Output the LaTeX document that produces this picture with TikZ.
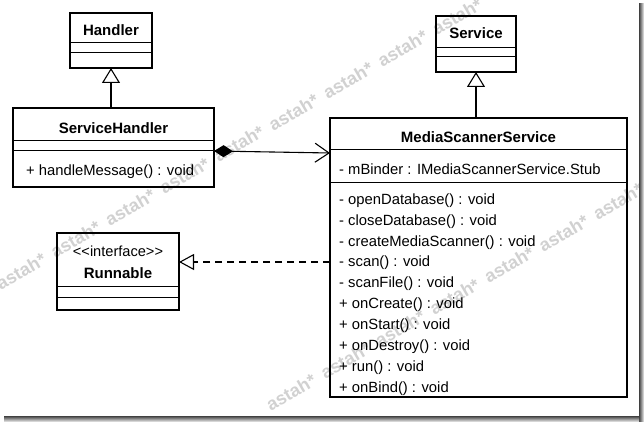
\documentclass[tikz,border=0pt]{standalone}
\usepackage{fontspec}
\setmainfont{Liberation Sans}
\usetikzlibrary{arrows.meta}
\begin{document}
\begin{tikzpicture}[x=1pt,y=-1pt,
  box/.style={draw=black, line width=2.2pt, inner sep=0pt, outer sep=0pt, anchor=north west},
  sep/.style={draw=black, line width=1pt},
  cname/.style={font=\bfseries\fontsize{15}{18}\selectfont, inner sep=0pt, anchor=base},
  member/.style={font=\fontsize{14.8}{18}\selectfont, inner sep=0pt, anchor=base west},
  stereo/.style={font=\fontsize{14.6}{18}\selectfont, inner sep=0pt, anchor=base},
  conn/.style={draw=black, line width=1.1pt},
  gen/.style={conn, -{Triangle[open, length=15pt, width=18pt, line width=1.1pt]}},
  realz/.style={conn, dash pattern=on 7pt off 5pt, -{Triangle[open, length=15pt, width=16pt, line width=1.1pt]}},
  comp/.style={conn, {Diamond[length=19pt, width=12pt]}-{Straight Barb[length=14pt, width=19pt, line width=1.1pt]}},
  wm/.style={font=\bfseries\fontsize{18}{18}\selectfont, text=black!18, rotate=30.2, inner sep=0pt},
  shadowr/.style={left color=black!75, right color=black!4},
  shadowb/.style={top color=black!75, bottom color=black!4}
]
\useasboundingbox (0,0) rectangle (644,422);
\fill[white] (0,0) rectangle (644,422);

% watermarks
\begin{scope}
  \clip (0,0) rectangle (639,416);
  \foreach \k in {0,...,8}
    \node[wm] (wma\k) at ({21+54.5*\k},{271-31.8*\k}) {astah*};
  \foreach \k in {0,...,6}
    \node[wm] (wmb\k) at ({291+54.5*\k},{392-31.8*\k}) {astah*};
\end{scope}

% Handler
\node[box, minimum width=82pt, minimum height=55pt] (handler) at (70,13) {};
\draw[sep] (70,43) -- (152,43);
\draw[sep] (70,53) -- (152,53);
\node[cname] (handlername) at (111,36) {Handler};

% ServiceHandler
\node[box, minimum width=201pt, minimum height=79pt] (servicehandler) at (13,108) {};
\draw[sep] (13,141) -- (214,141);
\draw[sep] (13,151) -- (214,151);
\node[cname] (shname) at (113.5,133.5) {ServiceHandler};
\node[member] (shop) at (26,175.5) {+ handleMessage() : void};

% Service
\node[box, minimum width=80pt, minimum height=56pt] (service) at (436,16) {};
\draw[sep] (436,48) -- (516,48);
\draw[sep] (436,57) -- (516,57);
\node[cname] (servicename) at (476,39) {Service};

% MediaScannerService
\node[box, minimum width=297pt, minimum height=279pt] (mss) at (330,118) {};
\draw[sep] (330,150) -- (627,150);
\draw[sep] (330,182) -- (627,182);
\node[cname] (mssname) at (478.5,142.5) {MediaScannerService};
\node[member] (mssattr) at (339,174) {- mBinder : IMediaScannerService.Stub};
\foreach \t [count=\i from 0] in {- openDatabase() : void, - closeDatabase() : void,
    - createMediaScanner() : void, - scan() : void, - scanFile() : void,
    + onCreate() : void, + onStart() : void, + onDestroy() : void,
    + run() : void, + onBind() : void}
  \node[member] (mssop\i) at (339,{204.2+20.9*\i}) {\t};

% Runnable
\node[box, minimum width=122pt, minimum height=77pt] (runnable) at (57,233) {};
\draw[sep] (57,286) -- (179,286);
\draw[sep] (57,297) -- (179,297);
\node[stereo] (runstereo) at (118,256.5) {<\kern0pt<interface>\kern0pt>};
\node[cname] (runname) at (118,278.5) {Runnable};

% connectors
\draw[gen] (handler.south |- servicehandler.north) -- (handler.south);
\draw[gen] (service.south |- mss.north) -- (service.south);
\coordinate (rf) at (330,262);
\draw[realz] (rf) -- (rf -| runnable.east);
\coordinate (ca) at (214,151);
\coordinate (cb) at (330,153);
\draw[comp] (ca) -- (cb);

% frame shadow
\shade[shadowr] (639,4) rectangle (644,422);
\shade[shadowb] (4,416) rectangle (639,422);
\end{tikzpicture}
\end{document}
